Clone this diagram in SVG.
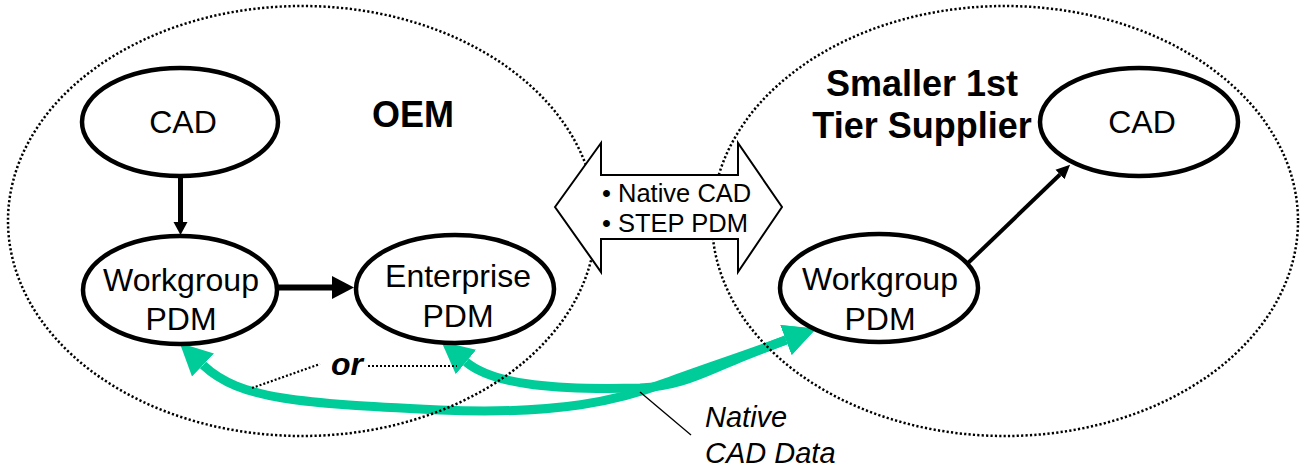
<svg xmlns="http://www.w3.org/2000/svg" width="1302" height="468" viewBox="0 0 1302 468">
  <style>
    text { font-family: "Liberation Sans", Arial, sans-serif; fill: #000; }
    .node { fill: #fff; stroke: #000; stroke-width: 4.5; }
    .label { font-size: 32px; text-anchor: middle; }
    .title { font-size: 36px; font-weight: bold; text-anchor: middle; }
    .zone { fill: none; stroke: #000; stroke-width: 2.5; stroke-dasharray: 2.2 2.2; }
    .flow { fill: none; stroke: #00CC99; stroke-width: 9; }
    .link { fill: none; stroke: #000; }
  </style>
  <defs>
    <marker id="greenHead" markerUnits="userSpaceOnUse" markerWidth="34" markerHeight="34" viewBox="0 -17 34 34" refX="0" refY="0" orient="auto-start-reverse">
      <path d="M0,-16 L32,0 L0,16 z" fill="#00CC99"/>
    </marker>
    <marker id="headLarge" markerUnits="userSpaceOnUse" markerWidth="24" markerHeight="24" viewBox="0 -12 24 24" refX="0" refY="0" orient="auto">
      <path d="M0,-11.5 L22,0 L0,11.5 z" fill="#000"/>
    </marker>
    <marker id="headSmall" markerUnits="userSpaceOnUse" markerWidth="16" markerHeight="16" viewBox="0 -8 16 16" refX="0" refY="0" orient="auto">
      <path d="M0,-7 L13,0 L0,7 z" fill="#000"/>
    </marker>
    <marker id="headThin" markerUnits="userSpaceOnUse" markerWidth="16" markerHeight="16" viewBox="0 -8 16 16" refX="0" refY="0" orient="auto">
      <path d="M0,-6.5 L14,0 L0,6.5 z" fill="#000"/>
    </marker>
  </defs>

  <!-- native CAD data exchange paths -->
  <g id="data-flows">
    <path class="flow" d="M203,365 C240,400 300,403 440,410 C560,415 620,400 665,383 C700,370 740,357 786,340" marker-start="url(#greenHead)" marker-end="url(#greenHead)"/>
    <path class="flow" d="M466,362 C495,386 560,390 640,388 C680,386 700,374 735,360 C752,353 768,347 786,340" marker-start="url(#greenHead)" marker-end="url(#greenHead)"/>
  </g>

  <!-- organisation boundaries -->
  <g id="zones">
    <ellipse class="zone" cx="302" cy="221" rx="294" ry="215"/>
    <ellipse class="zone" cx="1005" cy="221" rx="293" ry="215"/>
  </g>

  <!-- "or" alternative marker -->
  <g id="alternative">
    <polyline class="link" points="252,388 320,364" stroke-width="2.2" stroke-dasharray="2 2"/>
    <polyline class="link" points="368,366 457,366" stroke-width="2.2" stroke-dasharray="2 2"/>
    <text x="331" y="375" font-size="32" font-weight="bold" font-style="italic">or</text>
  </g>

  <!-- exchange format arrow -->
  <g id="exchange">
    <polygon points="555,207 601,143 601,175 738,175 738,143 782,207 738,272 738,239 601,239 601,272" fill="#fff" stroke="#000" stroke-width="2"/>
    <text x="602" y="202" font-size="25.5">• Native CAD</text>
    <text x="602" y="232" font-size="25.5">• STEP PDM</text>
  </g>

  <!-- node-to-node connectors -->
  <g id="connectors">
    <line class="link" x1="180.5" y1="176" x2="180.5" y2="222" stroke-width="5" marker-end="url(#headSmall)"/>
    <line class="link" x1="277" y1="287.5" x2="332" y2="287.5" stroke-width="6" marker-end="url(#headLarge)"/>
    <line class="link" x1="968" y1="263" x2="1060" y2="174.5" stroke-width="4" marker-end="url(#headThin)"/>
  </g>

  <g id="oem-label">
    <text class="title" x="413" y="127">OEM</text>
  </g>
  <g id="supplier-label">
    <text class="title" x="922" y="96">Smaller 1st</text>
    <text class="title" x="922" y="138">Tier Supplier</text>
  </g>

  <g id="oem-cad">
    <ellipse class="node" cx="180" cy="122" rx="98" ry="54"/>
    <text class="label" x="183" y="133">CAD</text>
  </g>
  <g id="oem-workgroup-pdm">
    <ellipse class="node" cx="180" cy="290" rx="97" ry="54"/>
    <text class="label" x="181" y="291">Workgroup</text>
    <text class="label" x="181" y="330">PDM</text>
  </g>
  <g id="oem-enterprise-pdm">
    <ellipse class="node" cx="455" cy="289" rx="99" ry="54"/>
    <text class="label" x="458" y="287">Enterprise</text>
    <text class="label" x="458" y="327">PDM</text>
  </g>
  <g id="supplier-workgroup-pdm">
    <ellipse class="node" cx="879" cy="288" rx="99" ry="54"/>
    <text class="label" x="880" y="290">Workgroup</text>
    <text class="label" x="880" y="330">PDM</text>
  </g>
  <g id="supplier-cad">
    <ellipse class="node" cx="1139" cy="122" rx="99" ry="54"/>
    <text class="label" x="1142" y="133">CAD</text>
  </g>

  <!-- callout for the data flows -->
  <g id="flow-callout">
    <line x1="640" y1="392" x2="691" y2="435" stroke="#000" stroke-width="1.3"/>
    <text x="705" y="427" font-size="29" font-style="italic">Native</text>
    <text x="705" y="463" font-size="29" font-style="italic">CAD Data</text>
  </g>
</svg>
